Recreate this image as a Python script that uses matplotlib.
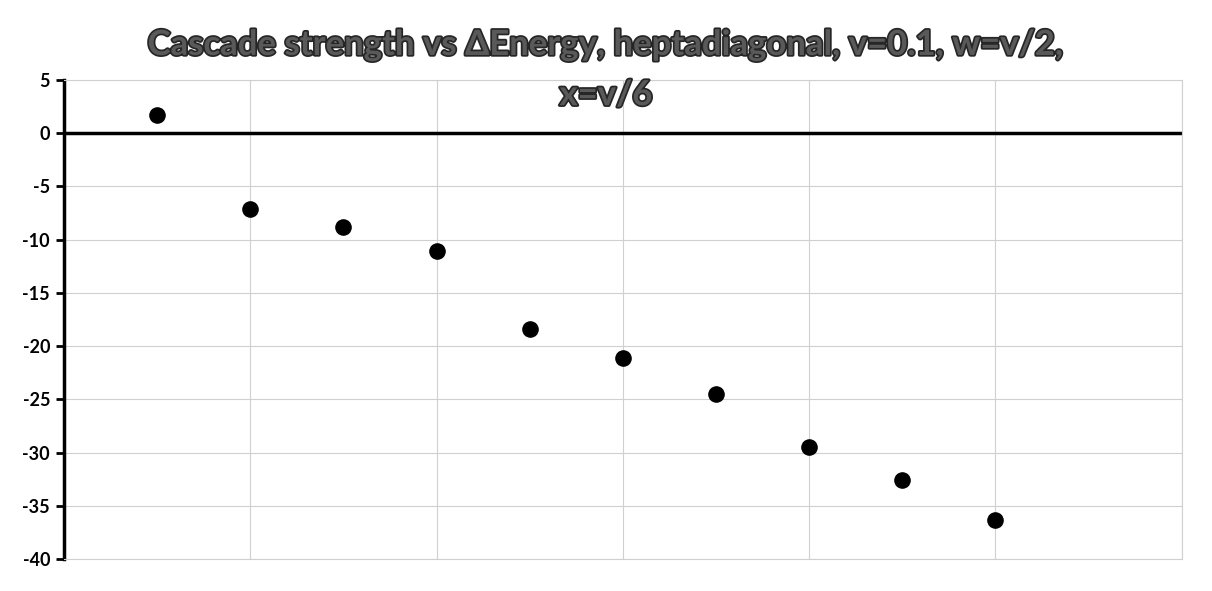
import matplotlib.pyplot as plt
import matplotlib.patheffects as pe

plt.rcParams['font.family'] = ['Lato', 'DejaVu Sans']

# data
x = [1, 2, 3, 4, 5, 6, 7, 8, 9, 10]
y = [1.7, -7.15, -8.85, -11.1, -18.4, -21.1, -24.5, -29.5, -32.6, -36.3]
yticks = [5, 0, -5, -10, -15, -20, -25, -30, -35, -40]
xgrid = [2, 4, 6, 8, 10, 12]
title_lines = ['Cascade strength vs ΔEnergy, heptadiagonal, v=0.1, w=v/2,', 'x=v/6']

fig = plt.figure(figsize=(12.12, 5.91), dpi=100)
ax = fig.add_axes([0.0528, 0.0541, 0.9222, 0.8105])

ax.set_xlim(0, 12)
ax.set_ylim(-40, 5)
ax.set_yticks(yticks)
ax.set_yticklabels([str(t) for t in yticks], fontweight='bold', fontsize=13)
ax.set_xticks(xgrid)
ax.tick_params(axis='x', length=0, labelbottom=False)
ax.tick_params(axis='y', direction='out', length=6, width=2, pad=4)

ax.grid(True, color='#d0d0d0', linewidth=0.8)
ax.set_axisbelow(True)
for s in ['top', 'right', 'bottom']:
    ax.spines[s].set_color('#d0d0d0')
    ax.spines[s].set_linewidth(0.8)
ax.spines['left'].set_linewidth(2.5)
ax.axhline(0, color='black', linewidth=2.5, zorder=2)

ax.scatter(x, y, s=120, color='black', zorder=3)

# two title lines placed separately, outlined like the Excel title
for txt, yy in zip(title_lines, [0.907, 0.822]):
    fig.text(0.5, yy, txt, ha='center', va='baseline', fontsize=25,
             fontweight='bold', color='#595959',
             path_effects=[pe.withStroke(linewidth=2.5, foreground='#262626')])

fig.savefig('out.png', dpi=100)
